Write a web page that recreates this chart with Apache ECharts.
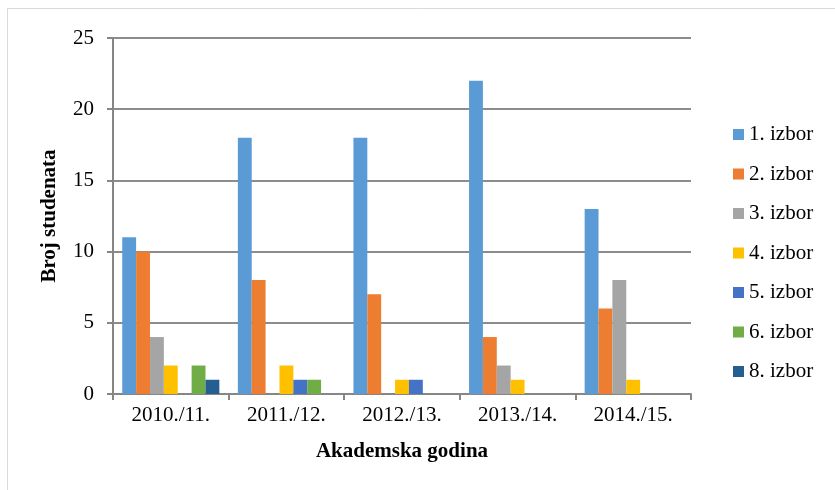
<!DOCTYPE html>
<html>
<head>
<meta charset="utf-8">
<script src="https://cdn.jsdelivr.net/npm/echarts@6/dist/echarts.min.js"></script>
<style>
  html, body { margin: 0; padding: 0; background: #fff; }
  #chart { width: 835px; height: 490px; }
</style>
</head>
<body>
<div id="chart"></div>
<script>
// akademske godine (kategorije)
const godine = ["2010./11.", "2011./12.", "2012./13.", "2013./14.", "2014./15."];
const nazivi = ["1. izbor", "2. izbor", "3. izbor", "4. izbor", "5. izbor", "6. izbor", "8. izbor"];
// broj studenata po izboru
const izbor1 = [11, 18, 18, 22, 13];
const izbor2 = [10, 8, 7, 4, 6];
const izbor3 = [4, 0, 0, 2, 8];
const izbor4 = [2, 2, 1, 1, 1];
const izbor5 = [0, 1, 1, 0, 0];
const izbor6 = [2, 1, 0, 0, 0];
const izbor8 = [1, 0, 0, 0, 0];
const yTicks = [0, 5, 10, 15, 20, 25];

const boje = ["#5B9BD5", "#ED7D31", "#A5A5A5", "#FFC000", "#4472C4", "#70AD47", "#255E91"];
const podaci = [izbor1, izbor2, izbor3, izbor4, izbor5, izbor6, izbor8];

const font = "'Liberation Serif', 'Times New Roman', serif";
const chart = echarts.init(document.getElementById("chart"));

chart.setOption({
  animation: false,
  textStyle: { fontFamily: font },
  graphic: [
    {
      type: "rect",
      shape: { x: 7.5, y: 8.5, width: 860, height: 520 },
      style: { fill: "none", stroke: "#d9d9d9", lineWidth: 1 },
      silent: true,
    },
  ],
  grid: { left: 113, top: 38, right: 144, bottom: 96 },
  legend: {
    data: nazivi,
    orient: "vertical",
    left: 728,
    top: 119,
    itemWidth: 11,
    itemHeight: 11,
    itemGap: 18.5,
    icon: "rect",
    selectedMode: false,
    textStyle: { fontFamily: font, fontSize: 21, color: "#000" },
  },
  xAxis: {
    type: "category",
    data: godine,
    name: "Akademska godina",
    nameLocation: "middle",
    nameGap: 47,
    nameTextStyle: { fontFamily: font, fontSize: 21, fontWeight: "bold", color: "#000" },
    axisLine: { lineStyle: { color: "#868686", width: 2 } },
    axisTick: { show: true, length: 6, lineStyle: { color: "#868686", width: 2 } },
    axisLabel: { fontFamily: font, fontSize: 21, color: "#000", margin: 11 },
  },
  yAxis: {
    type: "value",
    min: yTicks[0],
    max: yTicks[yTicks.length - 1],
    interval: 5,
    name: "Broj studenata",
    nameLocation: "middle",
    nameGap: 53,
    nameTextStyle: { fontFamily: font, fontSize: 21, fontWeight: "bold", color: "#000" },
    axisLine: { show: true, lineStyle: { color: "#868686", width: 2 } },
    axisTick: { show: true, length: 6, lineStyle: { color: "#868686", width: 2 } },
    axisLabel: { fontFamily: font, fontSize: 21, color: "#000", margin: 19 },
    splitLine: { lineStyle: { color: "#8c8c8c", width: 2 } },
  },
  series: podaci.map((d, i) => ({
    name: nazivi[i],
    type: "bar",
    data: d,
    barGap: "0%",
    barCategoryGap: "16%",
    itemStyle: { color: boje[i] },
  })),
});
</script>
</body>
</html>
